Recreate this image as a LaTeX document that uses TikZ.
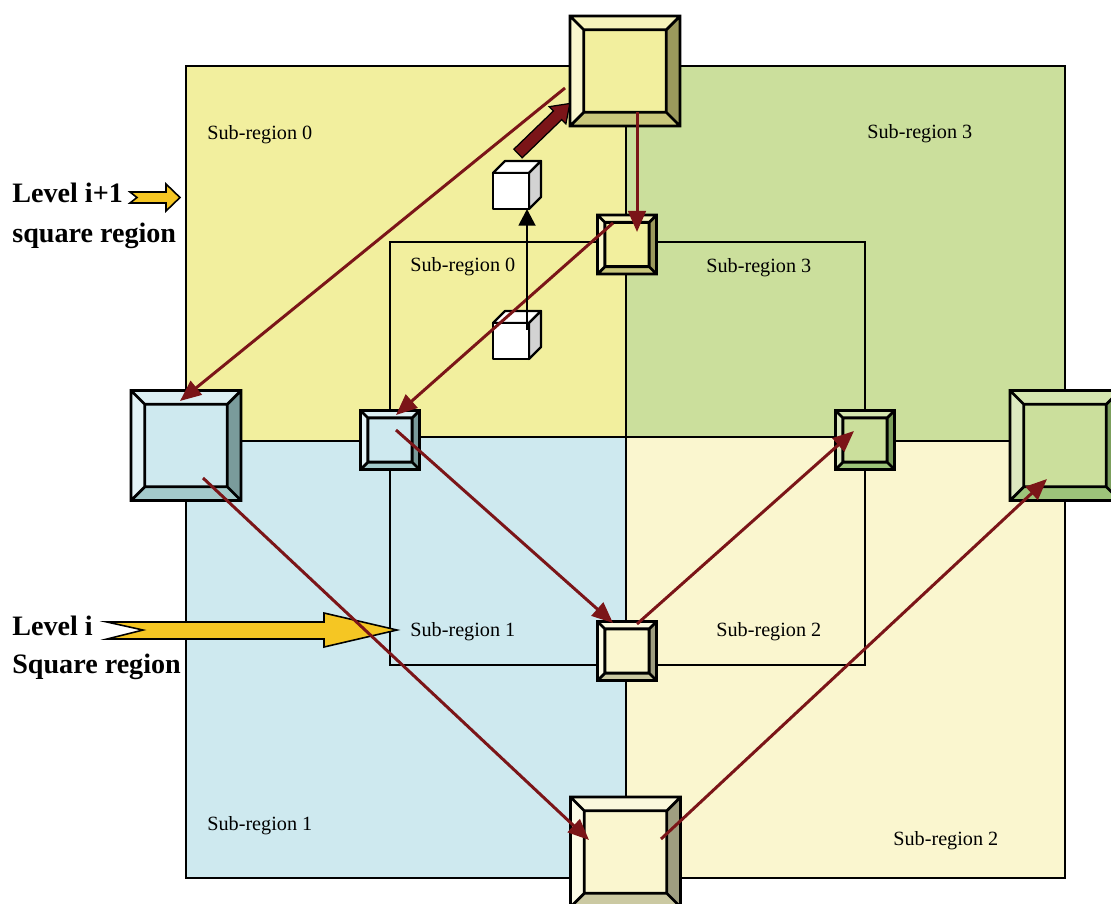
\documentclass[tikz,border=0pt]{standalone}
\usepackage{fontspec}
\setmainfont{Liberation Serif}
\usetikzlibrary{calc}
\usetikzlibrary{arrows.meta}

% quadrant colours
\definecolor{qyellow}{HTML}{F2EF9E}
\definecolor{qgreen}{HTML}{CBDF9C}
\definecolor{qblue}{HTML}{CEE9EF}
\definecolor{qcream}{HTML}{FAF6CF}
\definecolor{flowred}{HTML}{7B1518}
\definecolor{arrowgold}{HTML}{F5C623}
\definecolor{cubeside}{HTML}{D3D3D3}

% bevel shades
\colorlet{byel}{qyellow}
\definecolor{byelTop}{HTML}{F6F3BC}
\definecolor{byelLeft}{HTML}{F9F7CE}
\definecolor{byelRight}{HTML}{9B995C}
\definecolor{byelBot}{HTML}{C9C77C}
\colorlet{bblue}{qblue}
\definecolor{bblueTop}{HTML}{DCEFF3}
\definecolor{bblueLeft}{HTML}{E3F3F6}
\definecolor{bblueRight}{HTML}{7A9B9B}
\definecolor{bblueBot}{HTML}{A4CACB}
\colorlet{bgreen}{qgreen}
\definecolor{bgreenTop}{HTML}{D5E6B0}
\definecolor{bgreenLeft}{HTML}{DCE9C0}
\definecolor{bgreenRight}{HTML}{7B9F5C}
\definecolor{bgreenBot}{HTML}{9DC47A}
\colorlet{bcream}{qcream}
\definecolor{bcreamTop}{HTML}{FAF8DD}
\definecolor{bcreamLeft}{HTML}{FCFBE6}
\definecolor{bcreamRight}{HTML}{9F9E80}
\definecolor{bcreamBot}{HTML}{CBC9A2}

\tikzset{%
    region/.style={draw=black, line width=1.1pt},
    boxline/.style={draw=black, line width=1.6pt, line join=miter},
    cubeline/.style={draw=black, line width=1.3pt, line join=round},
    flow/.style={draw=flowred, line width=1.7pt, -{Triangle[length=12pt,width=10pt]}},
    lift/.style={draw=black, line width=1.6pt, -{Triangle[length=9.5pt,width=9.5pt]}},
    sublabel/.style={anchor=base west, inner sep=0pt, font=\fontsize{11.5}{13}\selectfont},
    levellabel/.style={anchor=base west, inner sep=0pt, font=\fontsize{16}{18}\selectfont\bfseries},
    goldarrow/.style={draw=black, fill=arrowgold, line width=0.9pt, line join=miter}
}

% bevelled square: name, x, y, half side, colour set
\newcommand{\bevelbox}[5]{%
    \pgfmathsetmacro{\bevw}{0.25*#4}
    \begin{scope}[shift={(#2,#3)}]
        \fill[#5] (-#4,-#4) rectangle (#4,#4);
        \fill[#5Top] (-#4,-#4) -- (#4,-#4) -- (#4-\bevw,-#4+\bevw) -- (-#4+\bevw,-#4+\bevw) -- cycle;
        \fill[#5Left] (-#4,-#4) -- (-#4+\bevw,-#4+\bevw) -- (-#4+\bevw,#4-\bevw) -- (-#4,#4) -- cycle;
        \fill[#5Right] (#4,-#4) -- (#4,#4) -- (#4-\bevw,#4-\bevw) -- (#4-\bevw,-#4+\bevw) -- cycle;
        \fill[#5Bot] (-#4,#4) -- (#4,#4) -- (#4-\bevw,#4-\bevw) -- (-#4+\bevw,#4-\bevw) -- cycle;
        \draw[boxline] (-#4,-#4) rectangle (#4,#4)
            (-#4+\bevw,-#4+\bevw) rectangle (#4-\bevw,#4-\bevw)
            (-#4,-#4) -- (-#4+\bevw,-#4+\bevw) (#4,-#4) -- (#4-\bevw,-#4+\bevw)
            (#4,#4) -- (#4-\bevw,#4-\bevw) (-#4,#4) -- (-#4+\bevw,#4-\bevw);
    \end{scope}
    \node[minimum size=#4*0.04cm, inner sep=0pt] (#1) at (#2,#3) {};
}

% small white cube: name, left, top of front face
\newcommand{\whitecube}[3]{%
    \draw[cubeline, fill=white] (#2,#3) -- ++(12,-12) -- ++(36,0) -- ++(-12,12) -- cycle;
    \draw[cubeline, fill=cubeside] (#2+36,#3) -- ++(12,-12) -- ++(0,36) -- ++(-12,12) -- cycle;
    \draw[cubeline, fill=white] (#2,#3) rectangle ++(36,36);
    \node[minimum size=0.72cm, inner sep=0pt] (#1) at (#2+18,#3+18) {};
}

\begin{document}
\begin{tikzpicture}[x=0.02cm, y=-0.02cm]
            \useasboundingbox (0,0) rectangle (1111,903);
            \clip (0,0) rectangle (1111,903);

            % outer square, four quadrants
            \fill[qyellow] (186,66) rectangle (626,441);
            \fill[qgreen] (626,66) rectangle (1065,441);
            \fill[qblue] (186,441) rectangle (626,878);
            \fill[qcream] (626,441) rectangle (1065,878);
            \draw[region] (186,66) rectangle (1065,878) (626,66) -- (626,878) (186,441) -- (1065,441);

            % inner square, four quadrants
            \fill[qyellow] (390,242) rectangle (626,437);
            \fill[qgreen] (626,242) rectangle (865,437);
            \fill[qblue] (390,437) rectangle (626,665);
            \fill[qcream] (626,437) rectangle (865,665);
            \draw[region] (390,242) rectangle (865,665) (626,242) -- (626,665) (390,437) -- (865,437);

            % labels of the sub-regions
            \node[sublabel] (outA) at (207,139) {Sub-region 0};
            \node[sublabel] (outD) at (867,138) {Sub-region 3};
            \node[sublabel] (outB) at (207,830) {Sub-region 1};
            \node[sublabel] (outC) at (893,845) {Sub-region 2};
            \node[sublabel] (inA) at (410,271) {Sub-region 0};
            \node[sublabel] (inD) at (706,272) {Sub-region 3};
            \node[sublabel] (inB) at (410,636) {Sub-region 1};
            \node[sublabel] (inC) at (716,636) {Sub-region 2};

            % level labels and their arrows
            \node[levellabel] (lvlUp) at (12,202) {Level i+1};
            \node[levellabel] (lvlUpB) at (12,242) {square region};
            \node[levellabel] (lvl) at (12,635) {Level i};
            \node[levellabel] (lvlB) at (12,673) {Square region};
            \draw[goldarrow] (130,192) -- (166,192) -- (166,184) -- (180,197.5) -- (166,211) -- (166,203) -- (130,203) -- (137,197.5) -- cycle;
            \draw[goldarrow] (107,622) -- (324,622) -- (324,613) -- (397,630) -- (324,647) -- (324,639) -- (107,639) -- (143,630) -- cycle;

            % big bevelled squares
            \bevelbox{bigT}{625}{71}{55}{byel}
            \bevelbox{bigL}{186}{445.5}{55}{bblue}
            \bevelbox{bigR}{1065}{445.5}{55}{bgreen}
            \bevelbox{bigB}{625.5}{852}{55}{bcream}

            % small bevelled squares
            \bevelbox{smT}{627}{244.5}{29.5}{byel}
            \bevelbox{smL}{390}{440}{29.5}{bblue}
            \bevelbox{smR}{865}{440}{29.5}{bgreen}
            \bevelbox{smB}{627}{651}{29.5}{bcream}

            % cubes
            \whitecube{cubeA}{493}{173}
            \whitecube{cubeB}{493}{323}

            % flow between the squares
            \draw[flow] ($(bigT)+(-60,17)$) -- ($(bigL)+(-6,-44.5)$);
            \draw[flow] ($(bigT)+(12,41)$) -- ($(smT)+(10,-12.5)$);
            \draw[flow] ($(smT)+(-14,-21.5)$) -- ($(smL)+(6,-25)$);
            \draw[flow] ($(smL)+(6,-10)$) -- ($(smB)+(-14,-28)$);
            \draw[flow] ($(smB)+(10,-27)$) -- ($(smR)+(-11,-9)$);
            \draw[flow] ($(bigL)+(17,32.5)$) -- ($(bigB)+(-36.5,-12)$);
            \draw[flow] ($(bigB)+(35.5,-13)$) -- ($(bigR)+(-18,33.5)$);

            % cube lifted to the upper level
            \draw[lift] ($(cubeB)+(16,-11)$) -- ($(cubeA)+(16,18)$);
            \begin{scope}[shift={(518,153.5)}, rotate=44]
                \draw[black, fill=flowred, line width=0.7pt] (0,-6) -- (55,-6) -- (55,-12) -- (72,0) -- (55,12) -- (55,6) -- (0,6) -- cycle;
            \end{scope}
        \end{tikzpicture}
\end{document}
